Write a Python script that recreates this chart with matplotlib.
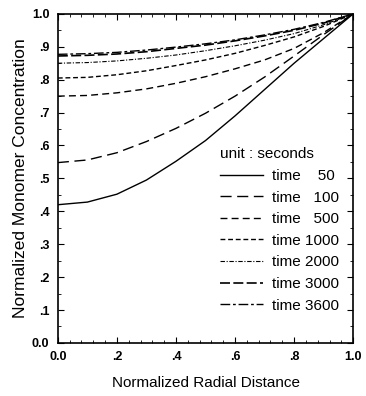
import numpy as np
import matplotlib
matplotlib.use('Agg')
import matplotlib.pyplot as plt
from matplotlib.ticker import MultipleLocator, FixedLocator

plt.rcParams['font.family'] = ['Liberation Sans', 'DejaVu Sans']

# normalized radial distance
r = [0.0, 0.1, 0.2, 0.3, 0.4, 0.5, 0.6, 0.7, 0.8, 0.9, 1.0]

# normalized monomer concentration
c50 = [0.420, 0.428, 0.452, 0.495, 0.552, 0.615, 0.690, 0.770, 0.850, 0.925, 1.0]
c100 = [0.548, 0.556, 0.578, 0.612, 0.652, 0.698, 0.750, 0.808, 0.872, 0.937, 1.0]
c500 = [0.750, 0.752, 0.760, 0.772, 0.789, 0.809, 0.833, 0.860, 0.895, 0.943, 1.0]
c1000 = [0.805, 0.807, 0.815, 0.827, 0.843, 0.860, 0.880, 0.904, 0.930, 0.962, 1.0]
c2000 = [0.850, 0.852, 0.857, 0.865, 0.875, 0.888, 0.903, 0.920, 0.940, 0.967, 1.0]
c3000 = [0.872, 0.874, 0.878, 0.885, 0.895, 0.905, 0.918, 0.933, 0.950, 0.972, 1.0]
c3600 = [0.877, 0.879, 0.883, 0.890, 0.899, 0.909, 0.921, 0.936, 0.953, 0.974, 1.0]

labels = ['time    50', 'time   100', 'time   500', 'time 1000',
          'time 2000', 'time 3000', 'time 3600']
series = [c50, c100, c500, c1000, c2000, c3000, c3600]
styles = ['-', (0, (8, 4)), (0, (5, 3)), (0, (3.5, 2)),
          (0, (4, 1.5, 1, 1.5)), (0, (6, 2)), (0, (7, 2, 2, 2))]
widths = [1.0, 1.0, 1.0, 1.0, 0.8, 1.2, 1.0]

fig = plt.figure(figsize=(3.66, 3.96), dpi=100)
ax = fig.add_axes([0.158, 0.134, 0.807, 0.831])

for y, lab, ls, lw in zip(series, labels, styles, widths):
    ax.plot(r, y, color='black', linestyle=ls, linewidth=lw, label=lab)

ax.set_xlim(0, 1)
ax.set_ylim(0, 1)

ax.xaxis.set_major_locator(FixedLocator([0, 0.2, 0.4, 0.6, 0.8, 1.0]))
ax.set_xticklabels(['0.0', '.2', '.4', '.6', '.8', '1.0'])
ax.yaxis.set_major_locator(FixedLocator(np.arange(0, 1.01, 0.1)))
ax.set_yticklabels(['0.0', '.1', '.2', '.3', '.4', '.5', '.6', '.7', '.8', '.9', '1.0'])
ax.xaxis.set_minor_locator(MultipleLocator(0.04))
ax.yaxis.set_minor_locator(MultipleLocator(0.05))

ax.tick_params(which='both', direction='in', top=True, right=True,
               labelsize=9, pad=6)
ax.tick_params(which='major', length=4, width=0.8)
ax.tick_params(which='minor', length=2, width=0.6)
for t in ax.get_xticklabels() + ax.get_yticklabels():
    t.set_fontweight('bold')
for s in ax.spines.values():
    s.set_linewidth(1.2)

ax.set_xlabel('Normalized Radial Distance', fontsize=11, labelpad=9)
ax.set_ylabel('Normalized Monomer Concentration', fontsize=12.5, labelpad=3)

leg = ax.legend(title='unit : seconds', loc='lower right', frameon=False,
                fontsize=11, title_fontsize=11, handlelength=2.8,
                handletextpad=0.6, labelspacing=0.5,
                bbox_to_anchor=(1.0, 0.05))
leg._legend_box.align = 'left'

fig.savefig('out.png', dpi=100)
